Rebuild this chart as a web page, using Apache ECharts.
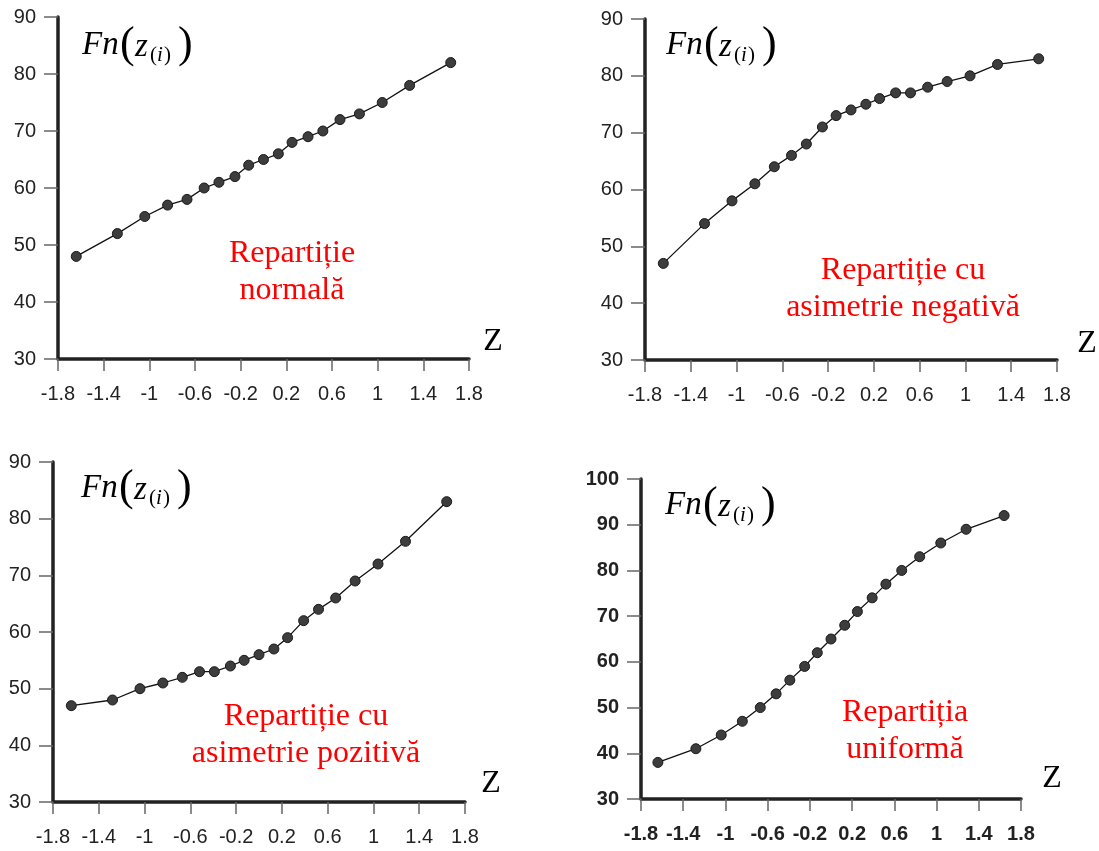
<!DOCTYPE html>
<html>
<head>
<meta charset="utf-8">
<script src="https://cdn.jsdelivr.net/npm/echarts@6/dist/echarts.min.js"></script>
<style>
html,body{margin:0;padding:0;background:#fff;}
#chart{width:1099px;height:851px;}
</style>
</head>
<body>
<div id="chart"></div>
<script>
// ---- data ----
const zValues = [-1.64, -1.28, -1.04, -0.84, -0.67, -0.52, -0.39, -0.25, -0.13, 0, 0.13, 0.25, 0.39, 0.52, 0.67, 0.84, 1.04, 1.28, 1.64];
const normalValues   = [48, 52, 55, 57, 58, 60, 61, 62, 64, 65, 66, 68, 69, 70, 72, 73, 75, 78, 82];
const negativeValues = [47, 54, 58, 61, 64, 66, 68, 71, 73, 74, 75, 76, 77, 77, 78, 79, 80, 82, 83];
const positiveValues = [47, 48, 50, 51, 52, 53, 53, 54, 55, 56, 57, 59, 62, 64, 66, 69, 72, 76, 83];
const uniformValues  = [38, 41, 44, 47, 50, 53, 56, 59, 62, 65, 68, 71, 74, 77, 80, 83, 86, 89, 92];
const xTickValues = [-1.8, -1.4, -1, -0.6, -0.2, 0.2, 0.6, 1, 1.4, 1.8];
const panelTitles = ['Repartiție\nnormală', 'Repartiție cu\nasimetrie negativă', 'Repartiție cu\nasimetrie pozitivă', 'Repartiția\nuniformă'];
const yRanges = [[30, 90], [30, 90], [30, 90], [30, 100]];
const axisNameX = 'Z';

const seriesValues = [normalValues, negativeValues, positiveValues, uniformValues];

// ---- layout ----
const grids = [
  {left: 58, top: 17, width: 411, height: 342},
  {left: 645, top: 19, width: 412, height: 341},
  {left: 53, top: 462, width: 412, height: 340},
  {left: 641, top: 479, width: 380, height: 320}
];
const titlePos = [[292, 272], [903, 289], [306, 735], [905, 731]];
const zPos = [[493, 342], [1087, 344], [491, 784], [1052, 779]];
const fnPos = [[82, 45], [666, 45], [81, 488], [665, 505]];

const chart = echarts.init(document.getElementById('chart'), null, {renderer: 'canvas'});

const xAxes = [], yAxes = [], series = [];
grids.forEach((g, i) => {
  const bold = i === 3 ? 'bold' : 'normal';
  xAxes.push({
    type: 'value', gridIndex: i, min: -1.8, max: 1.8,
    axisLine: {show: true, onZero: false, lineStyle: {color: '#222', width: 3.5}},
    axisTick: {show: true, length: 12, customValues: xTickValues, lineStyle: {color: '#666', width: 1.5}},
    axisLabel: {show: true, margin: 25, customValues: xTickValues, color: '#222', fontSize: 20, fontWeight: bold,
      fontFamily: 'Liberation Sans, Arial, sans-serif', formatter: v => String(v)},
    splitLine: {show: false}
  });
  yAxes.push({
    type: 'value', gridIndex: i, min: yRanges[i][0], max: yRanges[i][1], interval: 10,
    axisLine: {show: true, onZero: false, lineStyle: {color: '#222', width: 3.5}},
    axisTick: {show: true, length: 14, lineStyle: {color: '#666', width: 1.5}},
    axisLabel: {show: true, margin: 22, color: '#222', fontSize: 20, fontWeight: bold,
      fontFamily: 'Liberation Sans, Arial, sans-serif'},
    splitLine: {show: false}
  });
  series.push({
    type: 'line', xAxisIndex: i, yAxisIndex: i,
    data: zValues.map((z, k) => [z, seriesValues[i][k]]),
    symbol: 'circle', symbolSize: 10,
    itemStyle: {color: '#3d3d3d', borderColor: '#1a1a1a', borderWidth: 1},
    lineStyle: {color: '#111', width: 1.3},
    emphasis: {disabled: true}
  });
});

const graphics = [];
panelTitles.forEach((t, i) => {
  graphics.push({
    type: 'text', x: titlePos[i][0], y: titlePos[i][1], z: 10,
    style: {text: t, fill: '#ff0000', font: '32px "Liberation Serif", "Times New Roman", serif',
      align: 'center', verticalAlign: 'middle', lineHeight: 37}
  });
  graphics.push({
    type: 'text', x: zPos[i][0], y: zPos[i][1], z: 10,
    style: {text: axisNameX, fill: '#000', font: '32px "Liberation Serif", "Times New Roman", serif',
      align: 'center', verticalAlign: 'middle'}
  });
  const [fx, fy] = fnPos[i];
  const it = '"Liberation Serif", "Times New Roman", serif';
  graphics.push({type: 'text', x: fx, y: fy, z: 10,
    style: {text: 'Fn', fill: '#000', font: 'italic 33px ' + it, align: 'left', verticalAlign: 'middle'}});
  graphics.push({type: 'text', x: fx + 38, y: fy, z: 10,
    style: {text: '(', fill: '#000', font: '44px ' + it, align: 'left', verticalAlign: 'middle'}});
  graphics.push({type: 'text', x: fx + 53, y: fy + 2, z: 10,
    style: {text: 'z', fill: '#000', font: 'italic 33px ' + it, align: 'left', verticalAlign: 'middle'}});
  graphics.push({type: 'text', x: fx + 68, y: fy + 10, z: 10,
    style: {text: '(', fill: '#000', font: '21px ' + it, align: 'left', verticalAlign: 'middle'}});
  graphics.push({type: 'text', x: fx + 75, y: fy + 10, z: 10,
    style: {text: 'i', fill: '#000', font: 'italic 21px ' + it, align: 'left', verticalAlign: 'middle'}});
  graphics.push({type: 'text', x: fx + 82, y: fy + 10, z: 10,
    style: {text: ')', fill: '#000', font: '21px ' + it, align: 'left', verticalAlign: 'middle'}});
  graphics.push({type: 'text', x: fx + 96, y: fy, z: 10,
    style: {text: ')', fill: '#000', font: '44px ' + it, align: 'left', verticalAlign: 'middle'}});
});

chart.setOption({
  animation: false,
  backgroundColor: '#fff',
  grid: grids.map(g => Object.assign({containLabel: false}, g)),
  xAxis: xAxes,
  yAxis: yAxes,
  series: series,
  graphic: graphics
});
</script>
</body>
</html>
